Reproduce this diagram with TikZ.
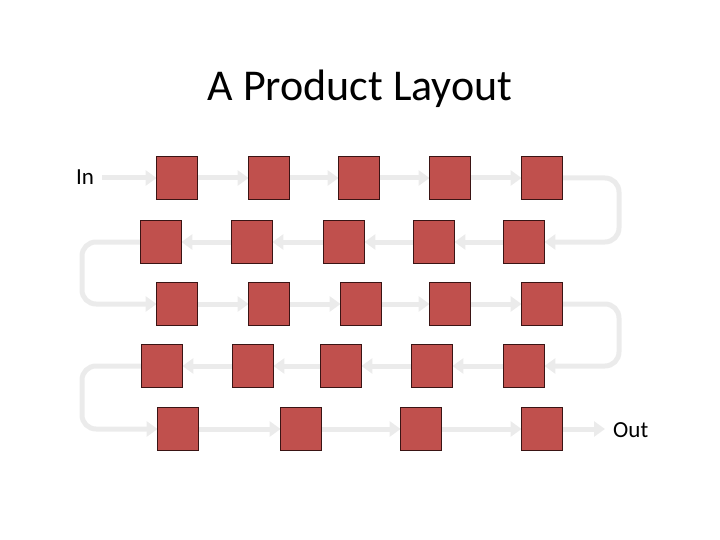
\documentclass[tikz,border=0pt]{standalone}
\usepackage{fontspec}
\setmainfont{Carlito}
\usetikzlibrary{arrows.meta}
\definecolor{boxred}{HTML}{C0504D}
\definecolor{boxedge}{HTML}{3A1414}
\definecolor{flow}{HTML}{EBEBEB}
\tikzset{
  unit/.style={draw=boxedge, line width=0.8pt, fill=boxred, minimum width=40pt, minimum height=42pt, inner sep=0pt},
  flowarr/.style={draw=flow, line width=5pt, -{Triangle[width=15pt,length=11pt]}, rounded corners=14pt},
  lbl/.style={font=\fontsize{23}{27}\selectfont, inner sep=0pt}
}
\begin{document}
\begin{tikzpicture}[x=1pt,y=-1pt]
\useasboundingbox (0,0) rectangle (720,540);
\node[font=\fontsize{44}{52}\selectfont, inner sep=0pt, anchor=base] (title) at (360,101) {A Product Layout};
% row 1
\node[unit] (a1) at (177,178) {};
\node[unit] (a2) at (269,178) {};
\node[unit] (a3) at (359,178) {};
\node[unit] (a4) at (450,178) {};
\node[unit] (a5) at (542,178) {};
% row 2
\node[unit] (b1) at (161,242) {};
\node[unit] (b2) at (252,242) {};
\node[unit] (b3) at (344,242) {};
\node[unit] (b4) at (434,242) {};
\node[unit] (b5) at (524,242) {};
% row 3
\node[unit] (c1) at (177,304) {};
\node[unit] (c2) at (269,304) {};
\node[unit] (c3) at (361,304) {};
\node[unit] (c4) at (450,304) {};
\node[unit] (c5) at (542,304) {};
% row 4
\node[unit] (d1) at (162,366) {};
\node[unit] (d2) at (253,366) {};
\node[unit] (d3) at (341,366) {};
\node[unit] (d4) at (432,366) {};
\node[unit] (d5) at (524,366) {};
% row 5
\node[unit] (e1) at (178,429) {};
\node[unit] (e2) at (301,429) {};
\node[unit] (e3) at (421,429) {};
\node[unit] (e4) at (542,429) {};
% labels
\node[lbl, anchor=base west] (in) at (76,185) {In};
\node[lbl, anchor=base west] (out) at (613,437) {Out};
\coordinate (R) at (619,0);
\coordinate (L) at (82,0);
% connectors
\draw[flowarr] ([xshift=8pt]in.east |- a1.west) -- (a1.west);
\draw[flowarr] (a1) -- (a2); \draw[flowarr] (a2) -- (a3); \draw[flowarr] (a3) -- (a4); \draw[flowarr] (a4) -- (a5);
\draw[flowarr] (a5.east) -- (a5.east -| R) -- (b5.east -| R) -- (b5.east);
\draw[flowarr] (b5) -- (b4); \draw[flowarr] (b4) -- (b3); \draw[flowarr] (b3) -- (b2); \draw[flowarr] (b2) -- (b1);
\draw[flowarr] (b1.west) -- (b1.west -| L) -- (c1.west -| L) -- (c1.west);
\draw[flowarr] (c1) -- (c2); \draw[flowarr] (c2) -- (c3); \draw[flowarr] (c3) -- (c4); \draw[flowarr] (c4) -- (c5);
\draw[flowarr] (c5.east) -- (c5.east -| R) -- (d5.east -| R) -- (d5.east);
\draw[flowarr] (d5) -- (d4); \draw[flowarr] (d4) -- (d3); \draw[flowarr] (d3) -- (d2); \draw[flowarr] (d2) -- (d1);
\draw[flowarr] (d1.west) -- (d1.west -| L) -- (e1.west -| L) -- (e1.west);
\draw[flowarr] (e1) -- (e2); \draw[flowarr] (e2) -- (e3); \draw[flowarr] (e3) -- (e4);
\draw[flowarr] (e4.east) -- ([xshift=-8pt]out.west |- e4.east);
% redraw boxes on top
\foreach \n in {a1,a2,a3,a4,a5,b1,b2,b3,b4,b5,c1,c2,c3,c4,c5,d1,d2,d3,d4,d5,e1,e2,e3,e4}
  \draw[draw=boxedge, line width=0.8pt, fill=boxred] (\n.north west) rectangle (\n.south east);
\end{tikzpicture}
\end{document}
